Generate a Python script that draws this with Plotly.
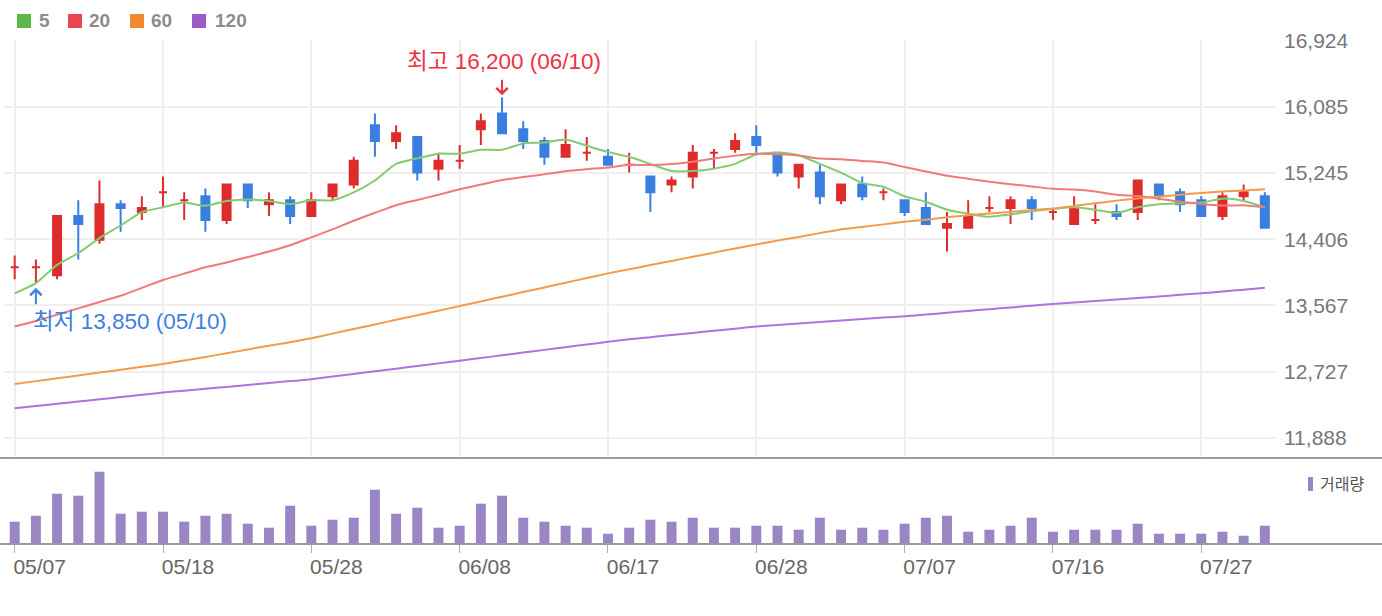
import plotly.graph_objects as go

# ---------------- data ----------------
dates = ["05/07", "05/10", "05/11", "05/12", "05/13", "05/14", "05/17", "05/18", "05/20", "05/21",
         "05/24", "05/25", "05/26", "05/27", "05/28", "05/31", "06/01", "06/02", "06/03", "06/04",
         "06/07", "06/08", "06/09", "06/10", "06/11", "06/14", "06/15", "06/16", "06/17", "06/18",
         "06/21", "06/22", "06/23", "06/24", "06/25", "06/28", "06/29", "06/30", "07/01", "07/02",
         "07/05", "07/06", "07/07", "07/08", "07/09", "07/12", "07/13", "07/14", "07/15", "07/16",
         "07/19", "07/20", "07/21", "07/22", "07/23", "07/26", "07/27", "07/28", "07/29", "07/30"]

opens = [14050, 14050, 13950, 14700, 14400, 14850, 14750, 15000, 14900, 14950,
         14650, 15100, 14850, 14900, 14700, 14950, 15100, 15850, 15650, 15700,
         15300, 15400, 15800, 16000, 15800, 15650, 15450, 15500, 15450, 15350,
         15200, 15100, 15200, 15500, 15550, 15700, 15500, 15200, 15250, 14900,
         15100, 15000, 14900, 14800, 14550, 14550, 14800, 14800, 14900, 14750,
         14600, 14650, 14750, 14750, 15100, 15000, 14900, 14700, 14950, 14950]
highs = [14200, 14150, 14700, 14900, 15150, 14900, 14950, 15200, 15000, 15050,
         15100, 15100, 15000, 14950, 15000, 15100, 15450, 16000, 15850, 15700,
         15500, 15600, 16000, 16200, 15900, 15700, 15800, 15700, 15550, 15500,
         15200, 15200, 15600, 15550, 15750, 15850, 15500, 15350, 15350, 15100,
         15200, 15050, 14900, 15000, 14750, 14900, 14950, 14950, 14950, 14800,
         14950, 14850, 14850, 15150, 15100, 15050, 14950, 15000, 15100, 15000]
lows = [13900, 13850, 13900, 14150, 14350, 14500, 14650, 14800, 14650, 14500,
        14600, 14800, 14700, 14600, 14700, 14900, 15050, 15450, 15550, 15150,
        15150, 15300, 15600, 15750, 15550, 15350, 15450, 15400, 15350, 15250,
        14750, 15000, 15050, 15300, 15500, 15500, 15200, 15050, 14850, 14850,
        14900, 14900, 14700, 14600, 14250, 14550, 14750, 14600, 14650, 14650,
        14600, 14600, 14650, 14650, 14900, 14750, 14700, 14650, 14900, 14550]
closes = [14050, 14050, 14700, 14600, 14850, 14800, 14800, 15000, 14900, 14650,
          15100, 14900, 14900, 14700, 14900, 15100, 15400, 15650, 15750, 15250,
          15400, 15400, 15900, 15750, 15650, 15450, 15600, 15500, 15350, 15350,
          15000, 15150, 15500, 15500, 15650, 15600, 15250, 15350, 14950, 15100,
          14950, 15000, 14750, 14600, 14600, 14700, 14800, 14900, 14800, 14750,
          14800, 14650, 14700, 15150, 14950, 14850, 14700, 14950, 15000, 14550]

volumes = [223, 283, 503, 483, 723, 303, 323, 323, 223, 283,
           303, 203, 163, 383, 183, 243, 263, 543, 303, 363,
           163, 183, 403, 483, 263, 223, 183, 163, 103, 163,
           243, 223, 263, 163, 163, 183, 183, 143, 263, 143,
           163, 143, 203, 263, 283, 123, 143, 183, 263, 123,
           143, 143, 143, 203, 103, 103, 103, 123, 83, 183]

ma5 = [13720, 13850, 14080, 14230, 14420, 14580, 14750, 14810, 14870, 14830,
       14890, 14910, 14890, 14850, 14900, 14900, 15000, 15150, 15360, 15430,
       15490, 15490, 15540, 15540, 15620, 15630, 15670, 15590, 15510, 15450,
       15360, 15270, 15270, 15300, 15360, 15480, 15500, 15470, 15360, 15250,
       15120, 15070, 14950, 14880, 14780, 14730, 14690, 14720, 14760, 14790,
       14810, 14780, 14740, 14810, 14850, 14860, 14870, 14920, 14890, 14810]
ma20 = [13300, 13370, 13450, 13530, 13610, 13690, 13790, 13890, 13970, 14050,
        14110, 14180, 14250, 14330, 14430, 14530, 14640, 14740, 14837, 14903,
        14970, 15038, 15098, 15155, 15195, 15228, 15268, 15293, 15315, 15350,
        15345, 15358, 15388, 15428, 15465, 15490, 15483, 15468, 15428, 15420,
        15398, 15378, 15320, 15263, 15210, 15173, 15133, 15103, 15075, 15045,
        15035, 15010, 14970, 14953, 14918, 14880, 14853, 14833, 14835, 14808]
ma60 = [12573, 12608, 12643, 12680, 12716, 12752, 12789, 12826, 12870, 12915,
        12960, 13010, 13055, 13100, 13151, 13210, 13268, 13326, 13385, 13443,
        13500, 13559, 13618, 13677, 13736, 13795, 13855, 13914, 13973, 14026,
        14078, 14131, 14183, 14236, 14288, 14340, 14388, 14435, 14483, 14530,
        14562, 14594, 14626, 14654, 14683, 14711, 14732, 14753, 14774, 14795,
        14828, 14862, 14895, 14922, 14946, 14970, 14993, 15009, 15024, 15040]
ma120 = [12265, 12293, 12321, 12350, 12378, 12406, 12435, 12463, 12487, 12511,
         12535, 12560, 12584, 12608, 12632, 12666, 12699, 12733, 12766, 12800,
         12833, 12867, 12901, 12936, 12970, 13004, 13038, 13072, 13106, 13138,
         13165, 13192, 13219, 13246, 13273, 13300, 13318, 13337, 13356, 13375,
         13394, 13413, 13430, 13452, 13474, 13497, 13519, 13541, 13563, 13585,
         13604, 13624, 13643, 13662, 13681, 13701, 13720, 13744, 13767, 13791]

price_ticks = [11888, 12727, 13567, 14406, 15245, 16085, 16924]
date_ticks = ["05/07", "05/18", "05/28", "06/08", "06/17", "06/28", "07/07", "07/16", "07/27"]
ma_names = ["5", "20", "60", "120"]
ma_series = [ma5, ma20, ma60, ma120]

high_label = "최고 16,200 (06/10)"
low_label = "최저 13,850 (05/10)"
high_date, high_value = "06/10", 16200
low_date, low_value = "05/10", 13850
volume_label = "거래량"

# ---------------- style ----------------
W, H = 1382, 616
ML, MR, MT, MB = 4, 107, 40, 72
PW, PH = W - ML - MR, H - MT - MB
UP, DOWN = "#de2b2b", "#3a7fe0"
MA_LINE = ["#82cb70", "#f07a7a", "#f59a4c", "#ac74dc"]
MA_LEGEND = ["#5cb947", "#e8484d", "#f28a2b", "#9b5cc8"]
VOL = "#9a86c4"
GRID = "#efefef"
FONT = "Liberation Sans, Noto Sans CJK KR, sans-serif"


def px_x(px):
    return (px - ML) / PW


def px_y(py):
    return (H - MB - py) / PH


fig = go.Figure()

for vals, col in zip(ma_series, MA_LINE):
    fig.add_trace(go.Scatter(x=dates, y=vals, mode="lines",
                             line=dict(color=col, width=2, shape="spline", smoothing=0.6),
                             xaxis="x", yaxis="y", showlegend=False, hoverinfo="skip"))

up_idx = [i for i in range(len(dates)) if closes[i] >= opens[i]]
dn_idx = [i for i in range(len(dates)) if closes[i] < opens[i]]
for idx, col in ((up_idx, UP), (dn_idx, DOWN)):
    fig.add_trace(go.Candlestick(
        x=[dates[i] for i in idx], open=[opens[i] for i in idx], high=[highs[i] for i in idx],
        low=[lows[i] for i in idx], close=[closes[i] for i in idx],
        increasing=dict(line=dict(color=col, width=2), fillcolor=col),
        decreasing=dict(line=dict(color=col, width=2), fillcolor=col),
        whiskerwidth=0, xaxis="x", yaxis="y", showlegend=False))

fig.add_trace(go.Bar(x=dates, y=volumes, marker=dict(color=VOL, line=dict(width=0)),
                     width=0.47, xaxis="x2", yaxis="y2", showlegend=False))

price_bottom = px_y(458)
vol_top = px_y(460)
xr = [-0.505, 59.48]

fig.update_layout(
    width=W, height=H, margin=dict(l=ML, r=MR, t=MT, b=MB),
    paper_bgcolor="white", plot_bgcolor="white",
    font=dict(family=FONT, color="#666"),
    boxgap=0.6225, boxgroupgap=0,
    xaxis=dict(domain=[0, 1], anchor="y", type="category", categoryorder="array",
               categoryarray=dates, range=xr, tickvals=date_ticks, showticklabels=False,
               showgrid=True, gridcolor=GRID, gridwidth=2, ticks="", zeroline=False,
               showline=False, rangeslider=dict(visible=False)),
    yaxis=dict(domain=[price_bottom, 1], anchor="x", range=[11634, 16930], side="right",
               tickvals=price_ticks, ticktext=[f"{v:,}" for v in price_ticks],
               showgrid=True, gridcolor=GRID, gridwidth=2, ticks="", zeroline=False,
               tickfont=dict(size=21, color="#777"), ticklabelstandoff=8),
    xaxis2=dict(domain=[0, 1], anchor="y2", type="category", categoryorder="array",
                categoryarray=dates, range=xr, tickvals=date_ticks, ticktext=date_ticks,
                showgrid=False, ticks="outside", ticklen=8, tickcolor="#aaa", tickwidth=1,
                ticklabelshift=25, ticklabelstandoff=-4, tickfont=dict(size=21, color="#666"),
                zeroline=False, showline=False),
    yaxis2=dict(domain=[0, vol_top], anchor="x2", range=[0, 840], showgrid=False,
                showticklabels=False, zeroline=False, ticks=""),
)

shapes = [
    dict(type="line", xref="paper", yref="paper", x0=px_x(0), x1=px_x(W), y0=px_y(458), y1=px_y(458),
         line=dict(color="#9c9c9c", width=2)),
    dict(type="line", xref="paper", yref="paper", x0=px_x(0), x1=px_x(W), y0=px_y(544), y1=px_y(544),
         line=dict(color="#999", width=2)),
    dict(type="rect", xref="paper", yref="paper", x0=px_x(1308), x1=px_x(1313), y0=px_y(491), y1=px_y(477),
         line=dict(width=0), fillcolor=VOL),
]
annotations = []
leg_sq = [17, 68, 130, 192]
leg_tx = [37, 87, 149, 213]
for name, col, sx, tx in zip(ma_names, MA_LEGEND, leg_sq, leg_tx):
    shapes.append(dict(type="rect", xref="paper", yref="paper", x0=px_x(sx), x1=px_x(sx + 14),
                       y0=px_y(28), y1=px_y(14), line=dict(width=0), fillcolor=col))
    annotations.append(dict(xref="paper", yref="paper", x=px_x(tx), y=px_y(21), xanchor="left",
                            yanchor="middle", text=f"<b>{name}</b>", showarrow=False,
                            font=dict(size=19, color="#8c8c8c")))

annotations.append(dict(xref="paper", yref="paper", x=px_x(1318), y=px_y(484), xanchor="left",
                        yanchor="middle", text=volume_label, showarrow=False,
                        font=dict(size=16, color="#555")))

hi_i = dates.index(high_date)
lo_i = dates.index(low_date)
annotations.append(dict(xref="x", yref="y", x=hi_i, y=high_value + 30, ax=0, ay=-17, text="",
                        showarrow=True, arrowhead=4, arrowsize=1.1, arrowwidth=2, arrowcolor="#ee3344",
                        standoff=0))
annotations.append(dict(xref="paper", yref="paper", x=px_x(504), y=px_y(62), xanchor="center",
                        yanchor="middle", text=high_label, showarrow=False,
                        font=dict(size=22.5, color="#ee3344")))
annotations.append(dict(xref="x", yref="y", x=lo_i, y=low_value - 60, ax=0, ay=18, text="",
                        showarrow=True, arrowhead=4, arrowsize=1.1, arrowwidth=2, arrowcolor="#3c82e1",
                        standoff=0))
annotations.append(dict(xref="paper", yref="paper", x=px_x(31), y=px_y(321), xanchor="left",
                        yanchor="middle", text=low_label, showarrow=False,
                        font=dict(size=22.5, color="#3c82e1")))

fig.update_layout(shapes=shapes, annotations=annotations)
fig.write_html("out.html")
